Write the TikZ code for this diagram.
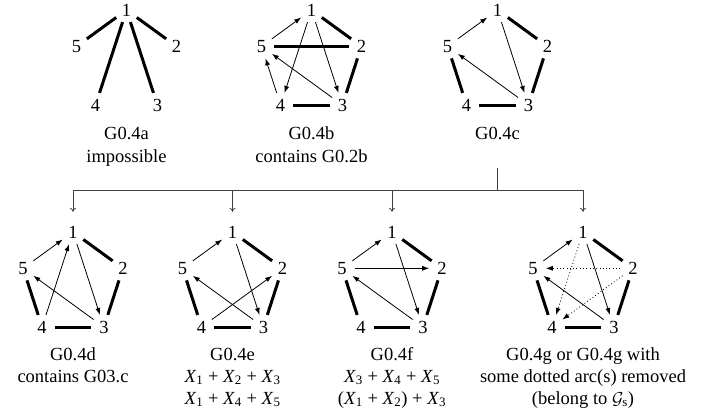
\documentclass[tikz,border=0pt]{standalone}
\usepackage{fontspec}
\setmainfont{Liberation Serif}
\usetikzlibrary{arrows.meta}
\tikzset{
  v/.style={circle, minimum size=25pt, inner sep=0pt, font=\fontsize{18.5}{22}\selectfont},
  thk/.style={line width=3pt},
  arc/.style={line width=0.8pt, -{Latex[length=7pt,width=5pt]}},
  darc/.style={arc, dash pattern=on 0.9pt off 2.4pt},
  captxt/.style={font=\fontsize{18.5}{22}\selectfont, inner sep=0pt, anchor=base},
  br/.style={draw=black!75, line width=0.8pt},
  brarr/.style={br, -{To[length=4pt,width=6pt]}, shorten >=7.5pt},
}
\newcommand\mkpent[3]{%
  \begin{scope}[shift={(#2,#3)}]
    \node[v] (#1-1) at (0,-52.5) {1};
    \node[v] (#1-2) at (49.9,-16.2) {2};
    \node[v] (#1-3) at (30.9,42.5) {3};
    \node[v] (#1-4) at (-30.9,42.5) {4};
    \node[v] (#1-5) at (-49.9,-16.2) {5};
  \end{scope}}
\newcommand\basecyc[1]{%
  \draw[thk] (#1-1) -- (#1-2);
  \draw[thk] (#1-2) -- (#1-3);
  \draw[thk] (#1-4) -- (#1-3);
  \draw[thk] (#1-5) -- (#1-4);
  \draw[arc] (#1-5) -- (#1-1);
  \draw[arc] (#1-1) -- (#1-3);
  \draw[arc] (#1-3) -- (#1-5);}
\begin{document}
\begin{tikzpicture}[x=1pt, y=-1pt]
\useasboundingbox (0,0) rectangle (722,418);

% top row
\mkpent{a}{126.5}{62.5}
\mkpent{b}{311.5}{62.5}
\mkpent{c}{497.5}{62.5}
% bottom row
\mkpent{d}{73}{284.5}
\mkpent{e}{232.5}{284.5}
\mkpent{f}{392}{284.5}
\mkpent{g}{583}{284.5}

% G0.4a
\draw[thk] (a-1) -- (a-5);
\draw[thk] (a-1) -- (a-2);
\draw[thk] (a-1) -- (a-4);
\draw[thk] (a-1) -- (a-3);

% G0.4b
\draw[thk] (b-1) -- (b-2);
\draw[thk] (b-5) -- (b-2);
\draw[thk] (b-2) -- (b-3);
\draw[thk] (b-4) -- (b-3);
\draw[arc] (b-5) -- (b-1);
\draw[arc] (b-1) -- (b-4);
\draw[arc] (b-1) -- (b-3);
\draw[arc] (b-4) -- (b-5);
\draw[arc] (b-3) -- (b-5);

% G0.4c
\basecyc{c}
% G0.4d
\basecyc{d}
\draw[arc] (d-4) -- (d-1);
% G0.4e
\basecyc{e}
\draw[arc] (e-4) -- (e-2);
% G0.4f
\basecyc{f}
\draw[arc] (f-5) -- (f-2);
% G0.4g
\basecyc{g}
\draw[darc] (g-2) -- (g-5);
\draw[darc] (g-1) -- (g-4);
\draw[darc] (g-2) -- (g-4);

% captions
\node[captxt] (ca1) at (126.5,139) {G0.4a};
\node[captxt] (ca2) at (126.5,162) {impossible};
\node[captxt] (cb1) at (311.5,139) {G0.4b};
\node[captxt] (cb2) at (311.5,162) {contains G0.2b};
\node[captxt] (cc1) at (497.5,139) {G0.4c};

\node[captxt] (cd1) at (73,360) {G0.4d};
\node[captxt] (cd2) at (73,382) {contains G03.c};
\node[captxt] (ce1) at (232.5,360) {G0.4e};
\node[captxt] (ce2) at (232.5,382) {\textit{X}\textsubscript{1} + \textit{X}\textsubscript{2} + \textit{X}\textsubscript{3}};
\node[captxt] (ce3) at (232.5,404) {\textit{X}\textsubscript{1} + \textit{X}\textsubscript{4} + \textit{X}\textsubscript{5}};
\node[captxt] (cf1) at (392,360) {G0.4f};
\node[captxt] (cf2) at (392,382) {\textit{X}\textsubscript{3} + \textit{X}\textsubscript{4} + \textit{X}\textsubscript{5}};
\node[captxt] (cf3) at (392,404) {(\textit{X}\textsubscript{1} + \textit{X}\textsubscript{2}) + \textit{X}\textsubscript{3}};
\node[captxt] (cg1) at (583,360) {G0.4g or G0.4g with};
\node[captxt] (cg2) at (583,382) {some dotted arc(s) removed};
\node[captxt] (cg3) at (583,404) {(belong to $\mathcal{G}_{\mathrm{s}}$)};

% bracket
\coordinate (bt) at (497.5,168);
\coordinate (bj) at (497.5,190);
\coordinate (bl) at (73,190);
\coordinate (be) at (232.5,190);
\coordinate (bf) at (392,190);
\coordinate (bg) at (583,190);
\draw[br] (bt) -- (bj);
\draw[br] (bl) -- (bg);
\draw[brarr] (bl) -- (d-1);
\draw[brarr] (be) -- (e-1);
\draw[brarr] (bf) -- (f-1);
\draw[brarr] (bg) -- (g-1);
\end{tikzpicture}
\end{document}
